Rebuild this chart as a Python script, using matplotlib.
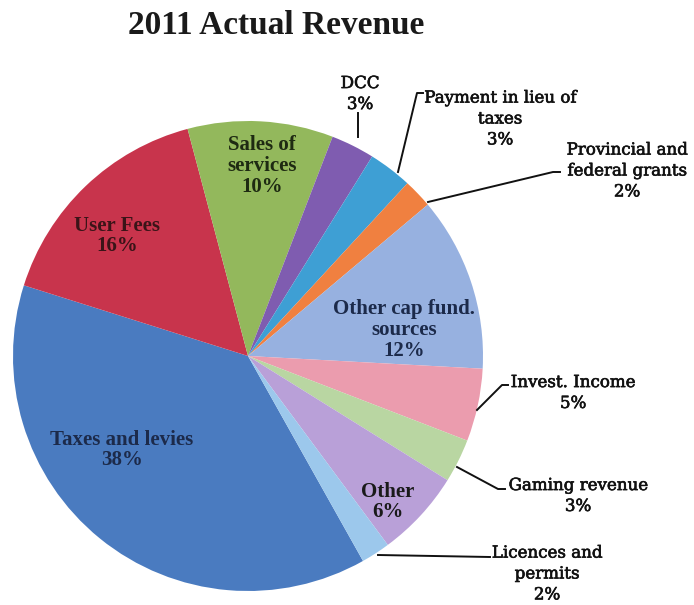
import matplotlib.pyplot as plt
import matplotlib.patheffects as pe

# revenue shares, listed clockwise starting from taxes
labels = ['Taxes and levies', 'User Fees', 'Sales of\nservices', 'DCC',
          'Payment in lieu of\ntaxes', 'Provincial and\nfederal grants',
          'Other cap fund.\nsources', 'Invest. Income', 'Gaming revenue',
          'Other', 'Licences and\npermits']
shares = [38, 16, 10, 3, 3, 2, 12, 5, 3, 6, 2]
colors = ['#4a7bc0', '#c8344c', '#93b85c', '#7f5cb0', '#3e9fd4', '#f08040',
          '#97b1e0', '#eb9cae', '#b9d6a2', '#b9a0d8', '#9cc8ec']

W, H = 694, 605
cx, cy, R = 248, 356, 235


def py(y):
    # pixel row (from top) -> axis y
    return H - y


fig = plt.figure(figsize=(W / 100, H / 100), dpi=100)
ax = fig.add_axes([0, 0, 1, 1])

ax.pie(shares, colors=colors, startangle=-60.7, counterclock=False,
       center=(cx, py(cy)), radius=R, wedgeprops=dict(linewidth=0))
ax.set_xlim(0, W)
ax.set_ylim(0, H)
ax.set_aspect('equal')
ax.axis('off')

ax.text(276, py(25), '2011 Actual Revenue', ha='center', va='center',
        family='Liberation Serif', fontsize=24, fontweight='bold', color='#1a1a1a')

# labels inside the big slices
inside = {0: (122, 450, '#1c2a4a'), 1: (117, 236, '#3a1418'),
          2: (262, 166, '#1e2a12'), 6: (404, 330, '#1c2a4a'),
          9: (388, 502, '#1a1a1a')}
for i, (x, y, c) in inside.items():
    ax.text(x, py(y), f'{labels[i]}\n{shares[i]}%', ha='center', va='center',
            family='Liberation Serif', fontsize=15, fontweight='bold',
            color=c, linespacing=1.05)

# small slices labelled outside with leader lines
outside = {
    3: ((360, 94), [(358, 113), (358, 137)]),
    4: ((500, 119), [(423, 93), (417, 93), (398, 172)]),
    5: ((627, 171), [(560, 172), (553, 172), (428, 202)]),
    7: ((573, 393), [(508, 385), (502, 385), (477, 410)]),
    8: ((578, 496), [(505, 489), (498, 489), (457, 467)]),
    10: ((547, 574), [(490, 557), (378, 555)]),
}
heavy = [pe.withStroke(linewidth=0.45, foreground='#111111')]
for i, ((x, y), pts) in outside.items():
    ax.text(x, py(y), f'{labels[i]}\n{shares[i]}%', ha='center', va='center',
            family='DejaVu Serif', fontsize=12, color='#111111',
            linespacing=1.3, path_effects=heavy)
    ax.plot([p[0] for p in pts], [py(p[1]) for p in pts], color='#111111', lw=1.4)

fig.savefig('out.png', dpi=100)
